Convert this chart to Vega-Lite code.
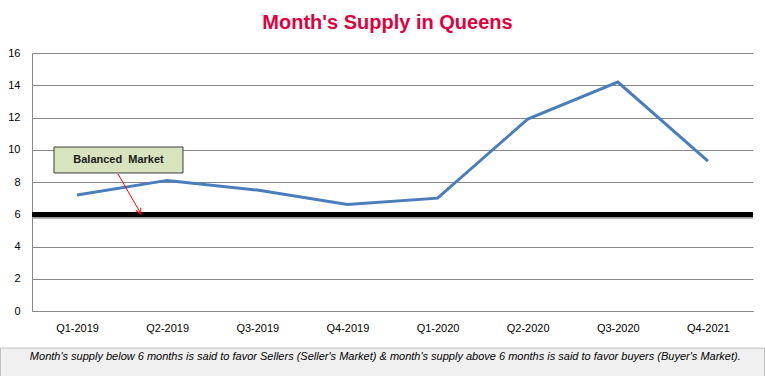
{
  "$schema": "https://vega.github.io/schema/vega-lite/v6.json",
  "width": 721,
  "height": 258,
  "autosize": {"type": "none"},
  "padding": {"left": 32, "top": 53, "right": 12, "bottom": 65},
  "background": "white",
  "config": {
    "view": {"stroke": null},
    "font": "Liberation Sans",
    "axisY": {
      "title": null,
      "tickCount": 8,
      "labelOverlap": false,
      "grid": true,
      "gridColor": "#878787",
      "gridWidth": 1,
      "gridOpacity": 1,
      "domainColor": "#878787",
      "ticks": false,
      "tickSize": 0,
      "labelPadding": 12,
      "labelFontSize": 11,
      "labelColor": "#000000"
    }
  },
  "title": {
    "text": "Month's Supply in Queens",
    "color": "#e2003c",
    "fontSize": 20,
    "fontWeight": "bold",
    "font": "Liberation Sans",
    "anchor": "middle",
    "offset": 14,
    "dx": -5
  },
  "layer": [
    {
      "data": {
        "values": [
          {"quarter": "Q1-2019", "supply": 7.2},
          {"quarter": "Q2-2019", "supply": 8.1},
          {"quarter": "Q3-2019", "supply": 7.5},
          {"quarter": "Q4-2019", "supply": 6.6},
          {"quarter": "Q1-2020", "supply": 7.0},
          {"quarter": "Q2-2020", "supply": 11.9},
          {"quarter": "Q3-2020", "supply": 14.2},
          {"quarter": "Q4-2021", "supply": 9.3}
        ]
      },
      "layer": [
        {
          "mark": {"type": "line", "color": "#4a7ebb", "strokeWidth": 3},
          "encoding": {
            "x": {
              "field": "quarter",
              "type": "nominal",
              "sort": null,
              "axis": {
                "title": null,
                "labelAngle": 0,
                "ticks": false,
                "tickSize": 0,
                "labelPadding": 11,
                "labelFontSize": 11,
                "labelColor": "#000000",
                "domainColor": "#878787",
                "domainWidth": 1,
                "grid": false
              }
            },
            "y": {
              "field": "supply",
              "type": "quantitative",
              "scale": {"domain": [0, 16], "nice": false}
            }
          }
        },
        {
          "mark": {"type": "rule", "color": "#9a9a9a", "strokeWidth": 4, "opacity": 0.5},
          "encoding": {"y": {"datum": 5.88, "type": "quantitative"}}
        },
        {
          "mark": {"type": "rule", "color": "#000000", "strokeWidth": 4.5},
          "encoding": {"y": {"datum": 6, "type": "quantitative"}}
        }
      ]
    },
    {
      "layer": [
        {
          "data": {"values": [{"note": "Month's supply below 6 months is said to favor Sellers (Seller's Market) & month's supply above 6 months is said to favor buyers (Buyer's Market)."}]},
          "layer": [
            {
              "mark": {"type": "rect", "fill": "#f0f0f0", "stroke": "#bfbfbf", "strokeWidth": 1},
              "encoding": {
                "x": {"datum": -0.0437, "type": "quantitative", "scale": {"domain": [0, 1], "nice": false, "zero": false}, "axis": null},
                "x2": {"datum": 1.016},
                "y": {"datum": -2.3, "type": "quantitative"},
                "y2": {"datum": -4.3}
              }
            },
            {
              "mark": {"type": "text", "fontStyle": "italic", "fontSize": 11, "color": "#000000", "align": "center", "baseline": "middle"},
              "encoding": {
                "x": {"datum": 0.49, "type": "quantitative", "scale": {"domain": [0, 1], "nice": false, "zero": false}, "axis": null},
                "y": {"datum": -2.87, "type": "quantitative"},
                "text": {"field": "note"}
              }
            }
          ]
        },
        {
          "data": {"values": [{"label": "Balanced\u00a0\u00a0Market"}]},
          "layer": [
            {
              "mark": {"type": "rect", "fill": "#d7e4bd", "stroke": "#3c3c3c", "strokeWidth": 1},
              "encoding": {
                "x": {"datum": 0.0305, "type": "quantitative", "scale": {"domain": [0, 1], "nice": false, "zero": false}, "axis": null},
                "x2": {"datum": 0.2094},
                "y": {"datum": 10.17, "type": "quantitative"},
                "y2": {"datum": 8.56}
              }
            },
            {
              "mark": {"type": "text", "fontWeight": "bold", "fontSize": 11, "color": "#1a1a1a", "align": "center", "baseline": "middle"},
              "encoding": {
                "x": {"datum": 0.12, "type": "quantitative", "scale": {"domain": [0, 1], "nice": false, "zero": false}, "axis": null},
                "y": {"datum": 9.36, "type": "quantitative"},
                "text": {"field": "label"}
              }
            },
            {
              "mark": {"type": "rule", "color": "#ff0000", "strokeWidth": 1},
              "encoding": {
                "x": {"datum": 0.1193, "type": "quantitative", "scale": {"domain": [0, 1], "nice": false, "zero": false}, "axis": null},
                "x2": {"datum": 0.1512},
                "y": {"datum": 8.5, "type": "quantitative"},
                "y2": {"datum": 6.02}
              }
            },
            {
              "mark": {"type": "point", "shape": "M-0.5,-1L0,0L0.5,-1", "filled": false, "color": "#ff0000", "strokeWidth": 1, "size": 121, "angle": 330, "opacity": 1},
              "encoding": {
                "x": {"datum": 0.1512, "type": "quantitative", "scale": {"domain": [0, 1], "nice": false, "zero": false}, "axis": null},
                "y": {"datum": 6.02, "type": "quantitative"}
              }
            }
          ]
        }
      ]
    }
  ],
  "resolve": {"scale": {"x": "independent"}}
}
